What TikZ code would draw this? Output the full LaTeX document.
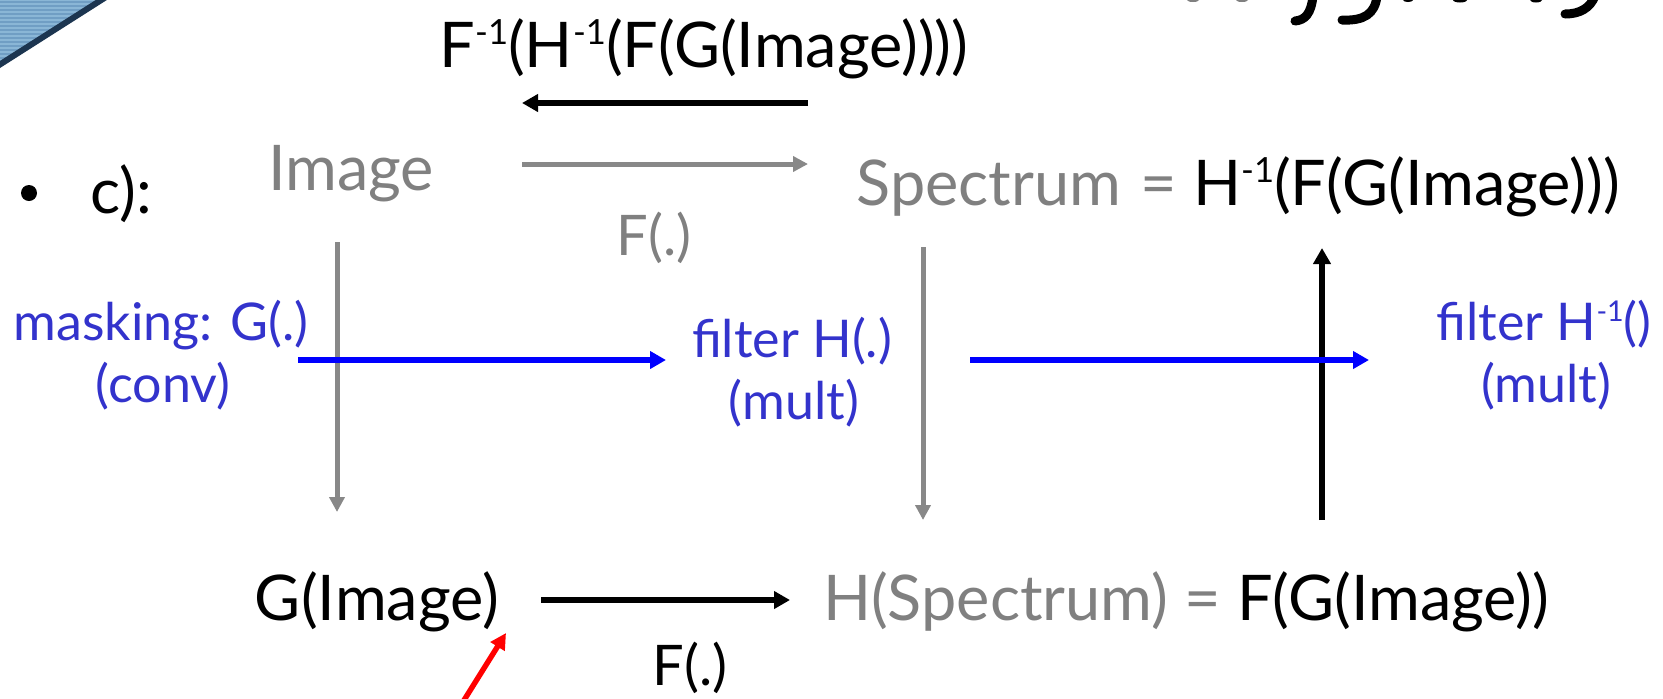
\documentclass[tikz,border=0pt]{standalone}
\usepackage{fontspec}
\setmainfont{Lato}
\usepackage{graphicx}
\usetikzlibrary{arrows.meta}
\definecolor{txtgray}{RGB}{128,128,128}
\definecolor{lngray}{RGB}{136,136,136}
\definecolor{txtblue}{RGB}{51,51,204}
\definecolor{arrblue}{RGB}{0,0,255}
\definecolor{decoblue}{RGB}{138,182,214}
\definecolor{decostripe}{RGB}{112,158,196}
\definecolor{deconavy}{RGB}{28,53,80}
\newcommand\supinv{\raisebox{0.36em}{\scalebox{0.55}{-1}}}
\begin{document}
\begin{tikzpicture}[x={(0.5pt,0pt)}, y={(0pt,-0.5pt)},
  big/.style={font=\fontsize{31.5}{38}\selectfont, inner sep=0pt, anchor=base},
  mid/.style={font=\fontsize{28}{34}\selectfont, inner sep=0pt, anchor=base},
  bluetxt/.style={font=\fontsize{26}{32}\selectfont, text=txtblue, inner sep=0pt, anchor=base},
  blk/.style={draw=black, line width=2.9pt, -{Triangle[length=8pt,width=8.5pt]}},
  gry/.style={draw=lngray, line width=2.5pt, -{Triangle[length=7.5pt,width=7.5pt]}},
  blu/.style={draw=arrblue, line width=2.8pt, -{Triangle[length=8pt,width=8.5pt]}},
  redarr/.style={draw=red, line width=2.7pt, -{Triangle[length=8pt,width=8pt]}},
]
\useasboundingbox (0,0) rectangle (1663,698);

% corner decoration
\begin{scope}
  \clip (0,0) -- (102,0) -- (0,65) -- cycle;
  \fill[decoblue] (0,0) rectangle (102,65);
  \foreach \yy in {2,6,...,62} \draw[decostripe, line width=0.8pt] (0,\yy) -- (102,\yy);
\end{scope}
\draw[deconavy, line width=3pt] (106,-3) -- (-4,67);

% fragments of the cut-off title
\begin{scope}[line width=4.5pt, line cap=round]
  \draw (1313,-4) .. controls (1311,14) and (1305,20) .. (1295,21);
  \draw (1377,-4) .. controls (1375,14) and (1364,21) .. (1342,20);
  \draw (1595,-4) .. controls (1590,8) and (1580,14) .. (1565,14);
  \fill (1408,0) ellipse (5 and 2);
  \fill (1460,0) ellipse (7 and 2.5);
  \fill (1536,0) ellipse (6 and 2.5);
\end{scope}
\fill[txtgray] (1193,0) ellipse (6 and 2);
\fill[txtgray] (1242,0) ellipse (6 and 2);

% texts
\node[circle, fill=black, inner sep=0pt, minimum size=8pt] (bul) at (29,193) {};
\node[big] (c) at (121,213) {c):};
\node[big, text=txtgray] (img) at (351,190) {Image};
\node[big, text=txtgray] (spec) at (989,205) {Spectrum};
\node[big, anchor=base west] (eq1) at (1140,205) {\textcolor{txtgray}{=} H\supinv(F(G(Image)))};
\node[big] (top) at (704,67) {F\supinv(H\supinv(F(G(Image))))};
\node[mid, text=txtgray] (f1) at (654,255) {F(.)};
\node[big] (gimg) at (377,620) {G(Image)};
\node[big] (hspec) at (1186,620) {\textcolor{txtgray}{H(Spectrum) =} F(G(Image))};
\node[mid] (f2) at (690,685) {F(.)};

\node[bluetxt] (mask1) at (161,340) {masking: G(.)};
\node[bluetxt] (mask2) at (163,402) {(conv)};
\node[bluetxt] (filt1) at (792,357) {filter H(.)};
\node[bluetxt] (filt2) at (794,419) {(mult)};
\node[bluetxt] (inv1) at (1544,340) {filter H\supinv()};
\node[bluetxt] (inv2) at (1546,402) {(mult)};

% arrow end points
\coordinate (topS) at (808,103);
\coordinate (topE) at (522,103);
\coordinate (isS) at (522,164);
\coordinate (isE) at (808,164);
\coordinate (lvS) at (337,242);
\coordinate (lvE) at (337,512);
\coordinate (mvS) at (923,247);
\coordinate (mvE) at (923,520);
\coordinate (rvS) at (1322,520);
\coordinate (rvE) at (1322,248);
\coordinate (b1S) at (298,360);
\coordinate (b1E) at (666,360);
\coordinate (b2S) at (970,360);
\coordinate (b2E) at (1369,360);
\coordinate (botS) at (541,600);
\coordinate (botE) at (790,600);
\coordinate (redS) at (461,705);
\coordinate (redE) at (506,633);

% arrows
\draw[blk] (topS) -- (topE);
\draw[gry] (isS) -- (isE);
\draw[gry] (lvS) -- (lvE);
\draw[gry] (mvS) -- (mvE);
\draw[blk] (rvS) -- (rvE);
\draw[blu] (b1S) -- (b1E);
\draw[blu] (b2S) -- (b2E);
\draw[blk] (botS) -- (botE);
\draw[redarr] (redS) -- (redE);
\end{tikzpicture}
\end{document}
